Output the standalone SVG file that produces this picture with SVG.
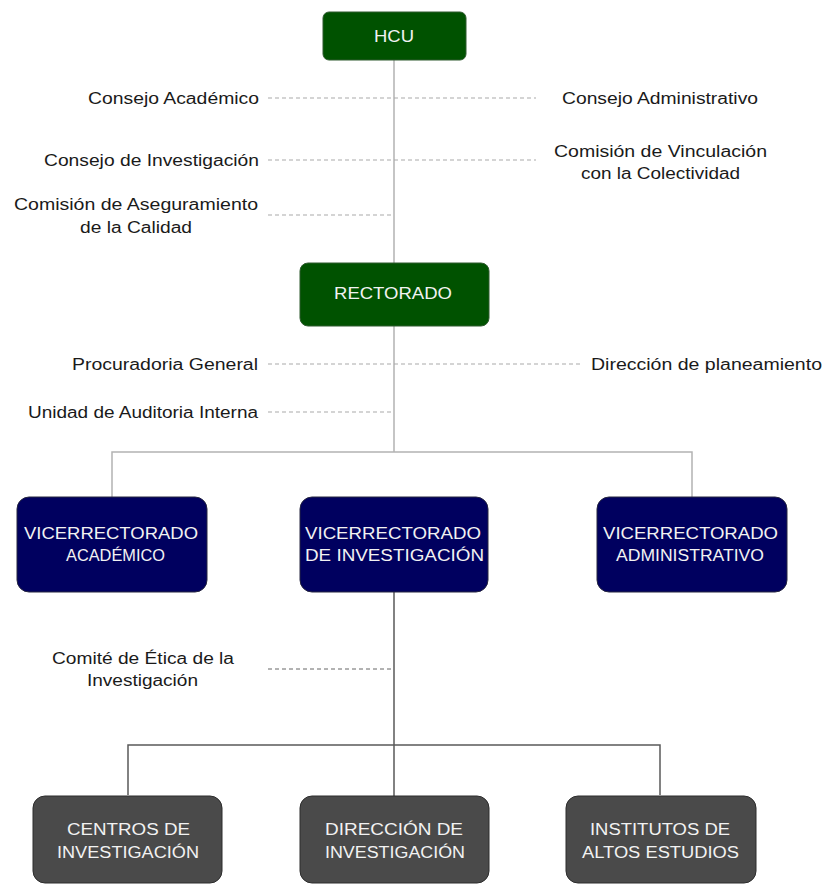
<svg xmlns="http://www.w3.org/2000/svg" width="823" height="884" viewBox="0 0 823 884">
  <style>
    .lbl { font-family: "Liberation Sans", Arial, sans-serif; font-size: 16px; fill: #1a1a1a; }
    .btx { font-family: "Liberation Sans", Arial, sans-serif; font-size: 16px; fill: #f2f2f2; }
    .green { fill: #005200; stroke: #2f5a2f; stroke-width: 1; }
    .navy { fill: #00005f; stroke: #262640; stroke-width: 1; }
    .gray { fill: #4a4a4a; stroke: #2c2c2c; stroke-width: 1; }
    .solid-lt { fill: none; stroke: #b3b3b3; stroke-width: 1.5; }
    .solid-dk { fill: none; stroke: #5a5a5a; stroke-width: 1.5; }
    .dash-lt { fill: none; stroke: #a9a9a9; stroke-width: 1; stroke-dasharray: 4 3; }
    .dash-dk { fill: none; stroke: #666; stroke-width: 1; stroke-dasharray: 4 3; }
  </style>
  <rect width="823" height="884" fill="#ffffff"/>

  <!-- connectors -->
  <g id="connectors">
    <path class="solid-lt" d="M394 60 V263 M394 326 V452 M112 497 V452 H692 V497"/>
    <path class="solid-dk" d="M394 592 V745 M128 795 V745 H660 V795 M394 745 V796"/>
    <path class="dash-lt" d="M268 98 H536 M268 160 H536 M268 215 H394 M268 364 H582 M268 412 H394"/>
    <path class="dash-dk" d="M268 669 H394"/>
  </g>

  <!-- side labels -->
  <g id="labels">
    <text class="lbl" x="88" y="104" textLength="171" lengthAdjust="spacingAndGlyphs">Consejo Académico</text>
    <text class="lbl" x="562" y="104" textLength="196" lengthAdjust="spacingAndGlyphs">Consejo Administrativo</text>
    <text class="lbl" x="44" y="166" textLength="215" lengthAdjust="spacingAndGlyphs">Consejo de Investigación</text>
    <text class="lbl" x="554" y="157" textLength="213" lengthAdjust="spacingAndGlyphs">Comisión de Vinculación</text>
    <text class="lbl" x="581" y="179" textLength="159" lengthAdjust="spacingAndGlyphs">con la Colectividad</text>
    <text class="lbl" x="14" y="210" textLength="244" lengthAdjust="spacingAndGlyphs">Comisión de Aseguramiento</text>
    <text class="lbl" x="80" y="233" textLength="112" lengthAdjust="spacingAndGlyphs">de la Calidad</text>
    <text class="lbl" x="72" y="370" textLength="186" lengthAdjust="spacingAndGlyphs">Procuradoria General</text>
    <text class="lbl" x="591" y="370" textLength="231" lengthAdjust="spacingAndGlyphs">Dirección de planeamiento</text>
    <text class="lbl" x="28" y="418" textLength="230" lengthAdjust="spacingAndGlyphs">Unidad de Auditoria Interna</text>
    <text class="lbl" x="52" y="664" textLength="182" lengthAdjust="spacingAndGlyphs">Comité de Ética de la</text>
    <text class="lbl" x="87" y="686" textLength="111" lengthAdjust="spacingAndGlyphs">Investigación</text>
  </g>

  <!-- top level -->
  <g id="hcu">
    <rect class="green" x="323" y="12" width="143" height="48" rx="6"/>
    <text class="btx" x="374" y="42" textLength="40" lengthAdjust="spacingAndGlyphs">HCU</text>
  </g>
  <g id="rectorado">
    <rect class="green" x="300" y="263" width="189" height="63" rx="8"/>
    <text class="btx" x="334" y="299" textLength="118" lengthAdjust="spacingAndGlyphs">RECTORADO</text>
  </g>

  <!-- vice-rectorates -->
  <g id="vr-academico">
    <rect class="navy" x="17" y="497" width="190" height="95" rx="12"/>
    <text class="btx" x="24" y="539" textLength="174" lengthAdjust="spacingAndGlyphs">VICERRECTORADO</text>
    <text class="btx" x="66" y="561" textLength="99" lengthAdjust="spacingAndGlyphs">ACADÉMICO</text>
  </g>
  <g id="vr-investigacion">
    <rect class="navy" x="300" y="497" width="188" height="95" rx="12"/>
    <text class="btx" x="305" y="539" textLength="176" lengthAdjust="spacingAndGlyphs">VICERRECTORADO</text>
    <text class="btx" x="305" y="561" textLength="179" lengthAdjust="spacingAndGlyphs">DE INVESTIGACIÓN</text>
  </g>
  <g id="vr-administrativo">
    <rect class="navy" x="597" y="497" width="190" height="95" rx="12"/>
    <text class="btx" x="603" y="539" textLength="175" lengthAdjust="spacingAndGlyphs">VICERRECTORADO</text>
    <text class="btx" x="616" y="561" textLength="148" lengthAdjust="spacingAndGlyphs">ADMINISTRATIVO</text>
  </g>

  <!-- research units -->
  <g id="centros">
    <rect class="gray" x="33" y="796" width="189" height="87" rx="12"/>
    <text class="btx" x="67" y="835" textLength="123" lengthAdjust="spacingAndGlyphs">CENTROS DE</text>
    <text class="btx" x="57" y="858" textLength="142" lengthAdjust="spacingAndGlyphs">INVESTIGACIÓN</text>
  </g>
  <g id="direccion">
    <rect class="gray" x="300" y="796" width="189" height="87" rx="12"/>
    <text class="btx" x="325" y="835" textLength="138" lengthAdjust="spacingAndGlyphs">DIRECCIÓN DE</text>
    <text class="btx" x="325" y="858" textLength="140" lengthAdjust="spacingAndGlyphs">INVESTIGACIÓN</text>
  </g>
  <g id="institutos">
    <rect class="gray" x="566" y="796" width="190" height="87" rx="12"/>
    <text class="btx" x="590" y="835" textLength="140" lengthAdjust="spacingAndGlyphs">INSTITUTOS DE</text>
    <text class="btx" x="582" y="858" textLength="157" lengthAdjust="spacingAndGlyphs">ALTOS ESTUDIOS</text>
  </g>
</svg>
